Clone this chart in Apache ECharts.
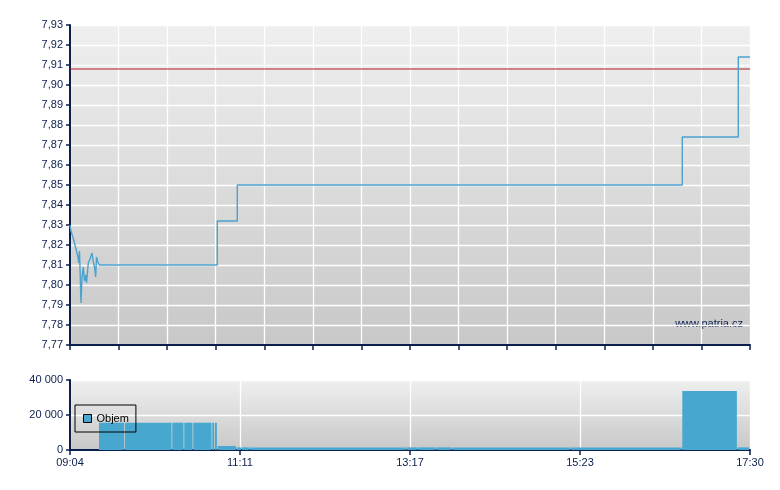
<!DOCTYPE html>
<html>
<head>
<meta charset="utf-8">
<script src="https://cdn.jsdelivr.net/npm/echarts@6/dist/echarts.min.js"></script>
<style>html,body{margin:0;padding:0;background:#fff;}#c{width:780px;height:490px;}</style>
</head>
<body>
<div id="c"></div>
<script>
// ---- data ----
const sessionOpen = "09:04:00";
const sessionClose = "17:30:00";
const timeLabels = ["09:04", "11:11", "13:17", "15:23", "17:30"];
const referencePrice = 7.908;

const tradeTimes = ["09:04:00","09:04:45","09:05:29","09:06:59","09:07:43","09:08:28","09:09:13","09:09:57","09:10:28","09:11:04",
  "09:12:11","09:12:56","09:13:54","09:14:47","09:15:41","09:16:17","09:17:37","09:18:53","09:20:22","09:21:29",
  "09:22:14","09:23:07","09:23:43","09:24:28","09:25:13","09:25:48","10:53:37","11:08:29","16:39:37","17:21:17","17:30:00"];
const tradePrices = [7.830,7.827,7.828,7.822,7.821,7.818,7.819,7.814,7.811,7.817,
  7.791,7.804,7.809,7.802,7.805,7.801,7.811,7.813,7.816,7.811,
  7.809,7.804,7.814,7.812,7.813,7.810,7.832,7.850,7.874,7.914,7.914];

const volumeStarts = ["09:25:35","09:44:56","10:20:07","10:29:03","10:35:45","10:49:53","10:51:54","10:53:54","11:08:02","11:11:59",
  "11:17:56","13:14:46","13:22:57","13:37:05","13:48:59","15:16:48","16:39:37","17:20:50"];
const volumeValues = [15600,15600,15600,15600,15600,15600,15600,2300,1500,1500,
  1500,1500,1500,1500,1500,1500,33700,1500];

// ---- helpers ----
function toMin(s) {
  const p = s.split(':').map(Number);
  const o = sessionOpen.split(':').map(Number);
  return (p[0] * 60 + p[1] + (p[2] || 0) / 60) - (o[0] * 60 + o[1] + (o[2] || 0) / 60);
}
const xMax = toMin(sessionClose);
// price holds until the next trade when trades are far apart
const priceData = [];
tradeTimes.forEach((t, i) => {
  const m = toMin(t);
  if (i > 0 && m - toMin(tradeTimes[i - 1]) > 3) priceData.push([m, tradePrices[i - 1]]);
  priceData.push([m, tradePrices[i]]);
});
const volData = volumeStarts.map((t, i) => [
  toMin(t),
  i + 1 < volumeStarts.length ? toMin(volumeStarts[i + 1]) : xMax,
  volumeValues[i]
]);

const NAVY = '#0b1f4d';
const FONT = 'Liberation Sans, Arial, sans-serif';
const bg = () => new echarts.graphic.LinearGradient(0, 0, 0, 1, [
  { offset: 0, color: '#efefef' },
  { offset: 1, color: '#c8c8c8' }
]);

const chart = echarts.init(document.getElementById('c'), null, { renderer: 'canvas' });
chart.setOption({
  animation: false,
  backgroundColor: '#ffffff',
  textStyle: { fontFamily: FONT },
  grid: [
    { left: 70, right: 30, top: 25, height: 320, show: true, backgroundColor: bg(), borderWidth: 0 },
    { left: 70, right: 30, top: 380, height: 70, show: true, backgroundColor: bg(), borderWidth: 0 }
  ],
  legend: {
    left: 75, top: 405,
    padding: [8, 7, 8, 8],
    borderColor: '#000', borderWidth: 1,
    itemWidth: 8, itemHeight: 8, itemGap: 5,
    icon: 'rect',
    data: [{ name: 'Objem', itemStyle: { color: '#47a7cf', borderColor: '#000', borderWidth: 1 } }],
    textStyle: { color: '#000', fontSize: 11, fontFamily: FONT }
  },
  xAxis: [
    {
      type: 'value', gridIndex: 0, min: 0, max: xMax, interval: xMax / 14,
      axisLine: { lineStyle: { color: NAVY, width: 2 } },
      axisTick: { show: true, length: 5, lineStyle: { color: NAVY, width: 1.5 } },
      axisLabel: { show: false },
      splitLine: { show: true, lineStyle: { color: '#ffffff', width: 1.3 } }
    },
    {
      type: 'value', gridIndex: 1, min: 0, max: xMax, interval: xMax / 4,
      axisLine: { lineStyle: { color: NAVY, width: 2 } },
      axisTick: { show: true, length: 5, lineStyle: { color: NAVY, width: 1.5 } },
      axisLabel: {
        color: NAVY, fontSize: 11, fontFamily: FONT, margin: 7,
        formatter: v => timeLabels[Math.round(v / (xMax / 4))]
      },
      splitLine: { show: true, lineStyle: { color: '#ffffff', width: 1.3 } }
    }
  ],
  yAxis: [
    {
      type: 'value', gridIndex: 0, min: 7.77, max: 7.93, interval: 0.01,
      axisLine: { show: true, lineStyle: { color: NAVY, width: 2 } },
      axisTick: { show: true, length: 4, lineStyle: { color: NAVY, width: 1.5 } },
      axisLabel: {
        color: NAVY, fontSize: 11, fontFamily: FONT, margin: 7,
        formatter: v => v.toFixed(2).replace('.', ',')
      },
      splitLine: { show: true, lineStyle: { color: '#ffffff', width: 1.3 } }
    },
    {
      type: 'value', gridIndex: 1, min: 0, max: 40000, interval: 20000,
      axisLine: { show: true, lineStyle: { color: NAVY, width: 2 } },
      axisTick: { show: true, length: 4, lineStyle: { color: NAVY, width: 1.5 } },
      axisLabel: {
        color: NAVY, fontSize: 11, fontFamily: FONT, margin: 7,
        formatter: v => String(v).replace(/\B(?=(\d{3})+(?!\d))/g, ' ')
      },
      splitLine: { show: true, lineStyle: { color: '#ffffff', width: 1.3 } }
    }
  ],
  series: [
    {
      name: 'Reference', type: 'line', xAxisIndex: 0, yAxisIndex: 0,
      data: [[0, referencePrice], [xMax, referencePrice]],
      showSymbol: false, silent: true,
      lineStyle: { color: '#b01a22', width: 1 },
      z: 2
    },
    {
      name: 'Cena', type: 'line', xAxisIndex: 0, yAxisIndex: 0,
      data: priceData, showSymbol: false,
      lineStyle: { color: '#4aa3cf', width: 1.4 },
      z: 3
    },
    {
      name: 'Objem', type: 'custom', xAxisIndex: 1, yAxisIndex: 1,
      data: volData,
      encode: { x: [0, 1], y: 2 },
      itemStyle: { color: '#47a7cf' },
      renderItem: function (params, api) {
        const p0 = api.coord([api.value(0), api.value(2)]);
        const p1 = api.coord([api.value(1), 0]);
        return {
          type: 'rect',
          shape: { x: p0[0], y: p0[1], width: Math.max(0.5, p1[0] - p0[0] - 0.8), height: p1[1] - p0[1] },
          style: { fill: '#47a7cf' }
        };
      },
      z: 2
    }
  ],
  graphic: [
    {
      type: 'text', right: 37, top: 318,
      style: { text: 'www.patria.cz', fill: NAVY, font: '11px ' + FONT }
    }
  ]
});
</script>
</body>
</html>
